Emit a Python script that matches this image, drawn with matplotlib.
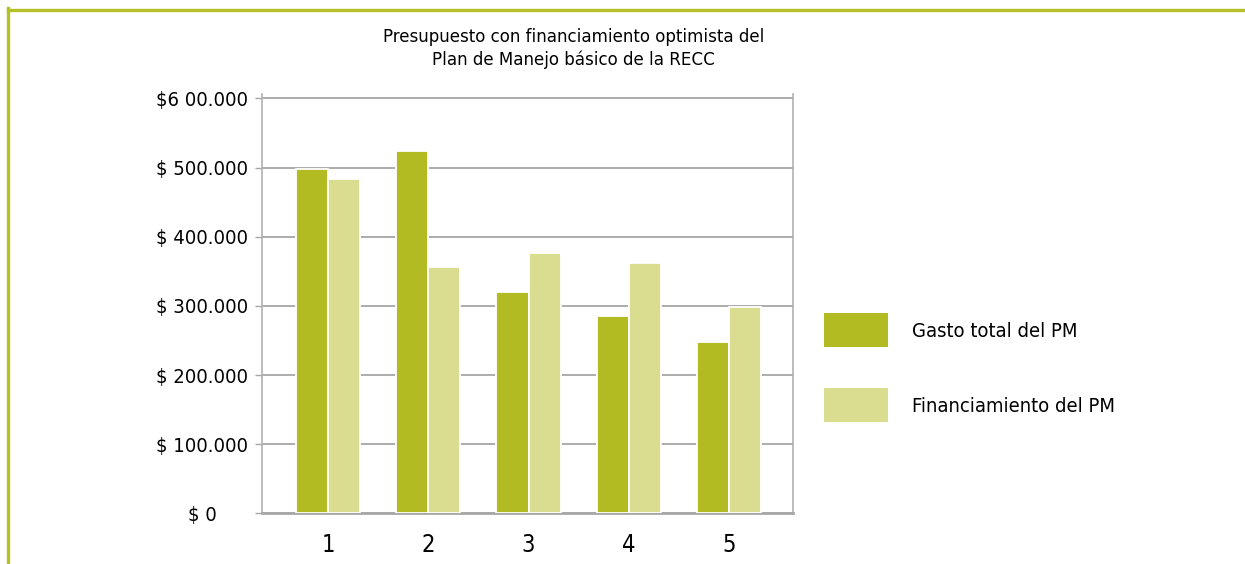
import matplotlib
matplotlib.use("Agg")
import matplotlib.pyplot as plt
import numpy as np
from matplotlib.lines import Line2D

plt.rcParams['font.family'] = ['DejaVu Sans']
plt.rcParams['font.stretch'] = 'condensed'

categories = ["1", "2", "3", "4", "5"]
gasto_total = [498000, 524000, 320000, 285000, 248000]
financiamiento = [484000, 356000, 377000, 362000, 298000]
series_names = ["Gasto total del PM", "Financiamiento del PM"]
y_ticks = [0, 100000, 200000, 300000, 400000, 500000, 600000]
y_tick_labels = ["$ 0", "$ 100.000", "$ 200.000", "$ 300.000", "$ 400.000", "$ 500.000", "$6 00.000"]
title_lines = ["Presupuesto con financiamiento optimista del",
               "Plan de Manejo básico de la RECC"]

dark = "#b3bb22"
light = "#dadd90"
grid_c = "#a6a6a6"
frame_c = "#b5c024"

W, H = 1245, 564
fig = plt.figure(figsize=(W / 100, H / 100), dpi=100)
ax = fig.add_axes([261.7 / W, 1 - 513.3 / H, (792.7 - 261.7) / W, (513.3 - 94.3) / H])

x = np.arange(1, len(categories) + 1)
bw = 0.32
b1 = ax.bar(x - bw / 2, gasto_total, width=bw, color=dark, edgecolor="white",
            linewidth=1.3, zorder=3, label=series_names[0])
b2 = ax.bar(x + bw / 2, financiamiento, width=bw, color=light, edgecolor="white",
            linewidth=1.3, zorder=3, label=series_names[1])

ax.set_xlim(0.339, 5.635)
ax.set_ylim(0, 606000)
ax.set_yticks(y_ticks)
ax.set_yticklabels(y_tick_labels)
ax.set_xticks(x)
ax.set_xticklabels(categories)

ax.yaxis.grid(True, color=grid_c, linewidth=1.3, zorder=0)
ax.set_axisbelow(True)
ax.spines['top'].set_visible(False)
for s in ['left', 'right']:
    ax.spines[s].set_color("#b0b0b0")
    ax.spines[s].set_linewidth(1.2)
ax.spines['bottom'].set_color("#a8a8a8")
ax.spines['bottom'].set_linewidth(2.0)

ax.tick_params(axis='y', length=5, width=1.0, color="#a6a6a6", labelsize=14.5, pad=38)
for lab in ax.get_yticklabels():
    lab.set_horizontalalignment('center')
ax.tick_params(axis='x', length=0, labelsize=17, pad=14)

# title
fig.text(573.5 / W, 1 - 41.7 / H, title_lines[0], ha='center', va='baseline', fontsize=13.3)
fig.text(573.5 / W, 1 - 65.0 / H, title_lines[1], ha='center', va='baseline', fontsize=13.3)

# legend
fs_leg = 14.5
em = fs_leg * 100 / 72
patch_h = 34 / em
hh = (patch_h - 0.245) / 0.65
leg = fig.legend(handles=[b1, b2], labels=series_names, loc='upper left',
                 bbox_to_anchor=(824 / W, 1 - 313.3 / H),
                 bbox_transform=fig.transFigure,
                 frameon=False, fontsize=fs_leg, borderpad=0, borderaxespad=0,
                 handlelength=64 / em, handleheight=hh,
                 labelspacing=(75 - 34) / em, handletextpad=24 / em)
for h in leg.legend_handles:
    h.set_edgecolor('none')

# olive frame lines
fig.add_artist(Line2D([7.5 / W, 1.0], [1 - 9.5 / H, 1 - 9.5 / H], transform=fig.transFigure,
                      color=frame_c, linewidth=2.4))
fig.add_artist(Line2D([7.5 / W, 7.5 / W], [1 - 8.3 / H, 0.0], transform=fig.transFigure,
                      color=frame_c, linewidth=2.4))

fig.savefig("out.png", dpi=100)
